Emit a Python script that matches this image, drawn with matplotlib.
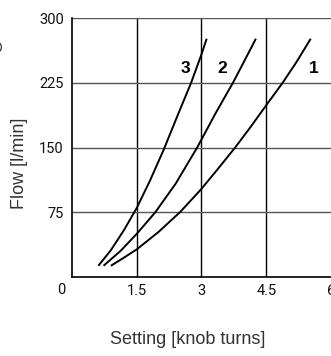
import matplotlib
matplotlib.use("Agg")
import matplotlib.pyplot as plt
from matplotlib import font_manager

# values
curve_names = ["1", "2", "3"]
setting_1 = [0.90, 1.19, 1.50, 2.00, 2.50, 2.98, 3.36, 3.78, 4.14, 4.50, 4.88, 5.20, 5.53]
flow_1 = [13, 22, 32, 52, 75, 101, 124, 150, 174, 199, 225, 249, 276]
setting_2 = [0.73, 1.12, 1.50, 1.93, 2.40, 2.90, 3.33, 3.74, 4.00, 4.26]
flow_2 = [13, 30, 50, 75, 108, 150, 190, 226, 251, 276]
setting_3 = [0.61, 0.90, 1.20, 1.50, 1.81, 2.12, 2.47, 2.76, 3.00, 3.12]
flow_3 = [13, 31, 54, 80, 112, 147, 190, 225, 258, 276]
label_x = [5.61, 3.48, 2.63]
label_y = [241, 241, 241]

x_ticks = [1.5, 3, 4.5, 6]
x_tick_labels = ["1.5", "3", "4.5", "6"]
y_ticks = [75, 150, 225, 300]
y_tick_labels = ["75", "150", "225", "300"]

installed = {f.name for f in font_manager.fontManager.ttflist}
tick_font = "Roboto" if "Roboto" in installed else "DejaVu Sans"
plt.rcParams["font.family"] = ["Liberation Sans", "DejaVu Sans"]

fig = plt.figure(figsize=(3.31, 3.56), dpi=100)
ax = fig.add_axes([0.2175, 0.2219, 0.7825, 0.7275])

ax.set_xlim(0, 6)
ax.set_ylim(0, 300)

# grid: black verticals, grey horizontals
for xv in x_ticks[:-1]:
    ax.axvline(xv, color="black", lw=1.0, zorder=1)
for yv in y_ticks:
    ax.axhline(yv, color="#555555", lw=1.0, zorder=1)

for xs, ys in [(setting_1, flow_1), (setting_2, flow_2), (setting_3, flow_3)]:
    ax.plot(xs, ys, color="black", lw=1.4, zorder=3, solid_capstyle="butt",
            solid_joinstyle="round")

for name, lx, ly in zip(curve_names, label_x, label_y):
    ax.text(lx, ly, name, fontsize=12.5, fontweight="bold", ha="center", va="center",
            color="black", zorder=4)

tick_style = dict(fontfamily=tick_font, fontsize=10.5, color="#111111")
ax.set_xticks(x_ticks)
ax.set_xticklabels(x_tick_labels, **tick_style)
ax.set_yticks(y_ticks)
ax.set_yticklabels(y_tick_labels, **tick_style)
ax.tick_params(length=0, pad=6)
ax.tick_params(axis="x", pad=5)
ax.annotate("0", xy=(0, 0), xycoords="data", xytext=(-7, -13), textcoords="offset pixels",
            ha="right", va="center", annotation_clip=False, **tick_style)

for side in ["top", "right"]:
    ax.spines[side].set_visible(False)
for side in ["left", "bottom"]:
    ax.spines[side].set_linewidth(1.2)
    ax.spines[side].set_color("black")

fig.text(0.06, 0.541, "Flow [l/min]", rotation=90, ha="center", va="center",
         fontsize=13, color="#333333")
fig.text(0.568, 0.045, "Setting [knob turns]", ha="center", va="center",
         fontsize=13, color="#333333")
# clipped piece of a rotated label at the left edge
fig.text(-0.008, 0.868, "C", rotation=90, ha="center", va="center",
         fontsize=13, color="#333333")

fig.savefig("out.png", dpi=100)
